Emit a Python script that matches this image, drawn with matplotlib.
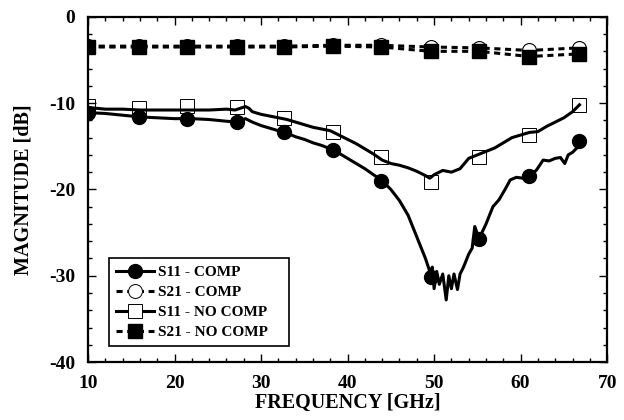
import matplotlib
matplotlib.use("Agg")
import matplotlib.pyplot as plt
from matplotlib.ticker import MultipleLocator

# Marker positions (GHz) shared by all four curves.
marker_freq = [10.0, 15.9, 21.4, 27.2, 32.7, 38.3, 43.9, 49.6, 55.2, 61.0, 66.7]

s11_comp_markers = [-11.1, -11.6, -11.8, -12.2, -13.4, -15.4, -19.0, -30.2, -25.7, -18.4, -14.4]
s11_nocomp_markers = [-10.3, -10.6, -10.3, -10.4, -11.7, -13.3, -16.3, -19.1, -16.2, -13.7, -10.2]
s21_comp_markers = [-3.4, -3.4, -3.4, -3.4, -3.4, -3.3, -3.3, -3.5, -3.6, -3.9, -3.6]
s21_nocomp_markers = [-3.5, -3.5, -3.5, -3.5, -3.5, -3.4, -3.5, -4.0, -4.0, -4.6, -4.3]

s11_comp_freq = [10, 12, 14, 16, 18, 20, 22, 24, 26, 27.2, 28.2, 29, 30, 31, 32, 33, 34,
                 35, 36, 37, 38, 39, 40, 41, 42, 43, 44, 45, 46, 47, 48, 49, 49.5, 49.8,
                 50.0, 50.3, 50.6, 51.0, 51.4, 51.7, 52.0, 52.3, 52.7, 53.0, 53.4, 54.0,
                 54.4, 54.7, 55.2, 56.0, 56.8, 57.5, 58.2, 58.8, 59.5, 60.3, 61.0, 61.8,
                 62.6, 63.3, 64.0, 64.6, 65.1, 65.5, 66.0, 66.5, 66.8]
s11_comp_db = [-11.1, -11.2, -11.4, -11.6, -11.7, -11.8, -11.8, -11.9, -12.1, -12.2, -11.8,
               -12.2, -12.6, -12.9, -13.2, -13.5, -13.9, -14.2, -14.6, -14.9, -15.3, -15.8,
               -16.4, -17.0, -17.6, -18.3, -19.0, -20.0, -21.3, -23.0, -25.5, -28.0, -29.5,
               -29.0, -31.5, -29.5, -31.0, -29.8, -32.8, -30.0, -31.5, -29.8, -31.6, -29.8,
               -29.0, -27.5, -26.8, -24.3, -25.7, -24.0, -22.0, -21.2, -20.0, -18.9, -18.6,
               -18.7, -18.4, -17.8, -16.6, -16.7, -16.4, -16.3, -17.0, -16.0, -15.7, -15.2,
               -14.4]

s11_nocomp_freq = [10, 11, 12, 14, 16, 18, 20, 22, 24, 26, 27, 28.2, 28.6, 29, 30, 31, 32,
                   33, 34, 35, 36, 37, 38, 39, 40, 41, 42, 43, 44, 45, 46, 47, 48, 49, 49.5,
                   50, 51, 52, 53, 54, 55, 56, 57, 58, 59, 60, 61, 62, 63, 64, 65, 66, 66.8]
s11_nocomp_db = [-10.5, -10.6, -10.7, -10.7, -10.8, -10.8, -10.8, -10.8, -10.8, -10.7, -10.8,
                 -10.4, -10.6, -11.0, -11.3, -11.5, -11.7, -11.9, -12.2, -12.5, -12.8, -13.0,
                 -13.2, -13.7, -14.2, -14.7, -15.3, -15.9, -16.6, -17.0, -17.2, -17.5, -17.9,
                 -18.4, -18.7, -18.3, -17.8, -18.0, -17.6, -16.4, -16.0, -15.6, -15.2, -14.6,
                 -14.0, -13.7, -13.4, -13.3, -12.7, -12.2, -11.7, -11.0, -10.2]

legend_labels = ["S11 - COMP", "S21 - COMP", "S11 - NO COMP", "S21 - NO COMP"]


def make_plot():
    plt.rcParams["font.family"] = ["Liberation Serif", "DejaVu Serif"]
    plt.rcParams["font.weight"] = "bold"
    plt.rcParams["axes.unicode_minus"] = False

    fig = plt.figure(figsize=(6.24, 4.2), dpi=100)
    ax = fig.add_axes([0.141, 0.138, 0.832, 0.822])

    # S21 curves (dashed), comp circles drawn under the filled squares.
    ax.plot(marker_freq, s21_comp_markers, color="black", lw=2.2, ls=(0, (2, 1.5)),
            marker="o", ms=10, mfc="white", mec="black", mew=0.8, zorder=2)
    ax.plot(marker_freq, s21_nocomp_markers, color="black", lw=2.2, ls=(0, (2, 1.5)),
            marker="s", ms=9.5, mfc="black", mec="black", zorder=3)

    # S11 curves.
    ax.plot(s11_nocomp_freq, s11_nocomp_db, color="black", lw=2.2, zorder=3)
    ax.plot(marker_freq, s11_nocomp_markers, ls="none", marker="s", ms=10,
            mfc="none", mec="black", mew=0.7, zorder=2)
    ax.plot(s11_comp_freq, s11_comp_db, color="black", lw=2.2, zorder=3)
    ax.plot(marker_freq, s11_comp_markers, ls="none", marker="o", ms=10,
            mfc="black", mec="black", zorder=4)

    # Legend handles.
    h1, = ax.plot([], [], color="black", lw=2.2, marker="o", ms=10, mfc="black")
    h2, = ax.plot([], [], color="black", lw=2.2, ls=(0, (2, 1.5)), marker="o", ms=10,
                  mfc="white", mec="black", mew=0.7)
    h3, = ax.plot([], [], color="black", lw=2.2, marker="s", ms=10, mfc="white",
                  mec="black", mew=0.7)
    h4, = ax.plot([], [], color="black", lw=2.2, ls=(0, (2, 1.5)), marker="s", ms=9.5,
                  mfc="black")
    leg = ax.legend([h1, h2, h3, h4], legend_labels, loc="lower left",
                    bbox_to_anchor=(0.04, 0.046, 0.347, 0.26), mode="expand",
                    borderaxespad=0, fancybox=False,
                    framealpha=1, edgecolor="black", handlelength=2.5, handletextpad=0.3,
                    labelspacing=0.42, borderpad=0.45, prop={"size": 11, "weight": "bold"})
    leg.get_frame().set_linewidth(1.2)

    ax.set_xlim(10, 70)
    ax.set_ylim(-40, 0)
    ax.xaxis.set_major_locator(MultipleLocator(10))
    ax.xaxis.set_minor_locator(MultipleLocator(2))
    ax.yaxis.set_major_locator(MultipleLocator(10))
    ax.yaxis.set_minor_locator(MultipleLocator(2))
    ax.tick_params(which="both", direction="in", top=True, right=True, width=1)
    ax.tick_params(which="major", length=6, labelsize=14)
    ax.tick_params(axis="y", which="major", pad=9)
    ax.tick_params(axis="x", which="major", pad=9)
    ax.tick_params(which="minor", length=3)
    for spine in ax.spines.values():
        spine.set_linewidth(1.6)

    ax.set_xlabel("FREQUENCY [GHz]", fontsize=14.5, fontweight="bold", labelpad=1)
    ax.set_ylabel("MAGNITUDE [dB]", fontsize=14.5, fontweight="bold", labelpad=11)

    fig.savefig("out.png", dpi=100)


if __name__ == "__main__":
    make_plot()
